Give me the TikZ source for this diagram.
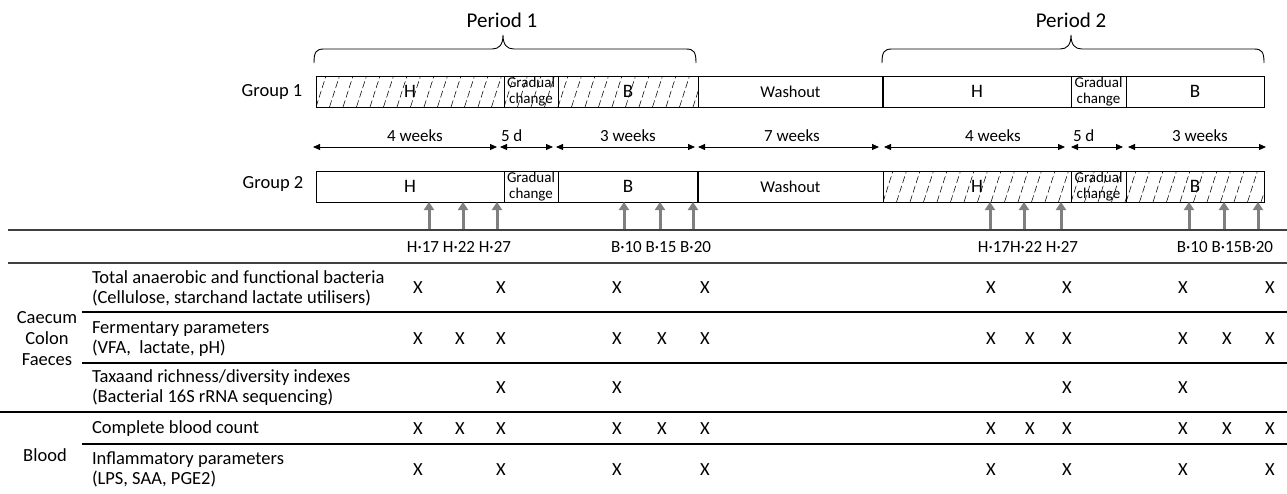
\documentclass[tikz,border=0pt]{standalone}
\usepackage{fontspec}
\setmainfont{Carlito}
\usetikzlibrary{arrows.meta,calc}

% diagonal dashed hatching clipped to a named box
\newcommand\hatchnode[1]{%
  \begin{scope}
    \clip (#1.south west) rectangle (#1.north east);
    \foreach \k in {-1,...,15}
      \draw[hatch] ($(#1.south west)+(\k*13.5,0)$) -- ++(10,-31);
  \end{scope}}

\begin{document}
\begin{tikzpicture}[x=1pt,y=-1pt,
  every node/.style={inner sep=0pt, outer sep=0pt},
  txt/.style={font=\fontsize{17}{19}\selectfont},
  big/.style={font=\fontsize{21}{24}\selectfont},
  cell/.style={draw, line width=0.9pt, minimum height=31pt, anchor=north west,
    font=\fontsize{19}{21}\selectfont},
  gcell/.style={cell, font=\fontsize{15}{16}\selectfont, align=center},
  wcell/.style={cell, font=\fontsize{16.5}{19}\selectfont},
  hatch/.style={line width=0.55pt, dash pattern=on 7pt off 3pt},
  span/.style={{Triangle[length=7pt,width=6pt]}-{Triangle[length=7pt,width=6pt]}, line width=0.9pt},
  probe/.style={-{Triangle[length=8pt,width=10pt]}, line width=3pt, draw=black!50},
  rowrule/.style={line width=1.2pt},
  headrule/.style={line width=2pt, draw=black!75},
  tab/.style={font=\fontsize{18.5}{20}\selectfont},
  rowtxt/.style={tab, align=left, anchor=west},
]
\useasboundingbox (0,0) rectangle (1287,493);

% periods and braces
\node[big] (p1) at (502,20) {Period 1};
\node[big] (p2) at (1071,20) {Period 2};
\draw[line width=0.9pt] (314,63) .. controls (314,52) and (316,49) .. (324,49) -- (492,49)
  .. controls (499,49) and (503,45) .. (503,35) .. controls (503,45) and (507,49) .. (514,49)
  -- (686,49) .. controls (694,49) and (696,52) .. (696,63);
\draw[line width=0.9pt] (882,63) .. controls (882,52) and (884,49) .. (892,49) -- (1060,49)
  .. controls (1067,49) and (1071,45) .. (1071,35) .. controls (1071,45) and (1075,49) .. (1082,49)
  -- (1254,49) .. controls (1262,49) and (1264,52) .. (1264,63);

% group 1
\node[tab] (grp1) at (272,92) {Group 1};
\node[cell, minimum width=188pt] (g1h) at (316,76) {\raisebox{-3pt}{H}};
\node[gcell, minimum width=54pt] (g1g) at (504,76) {Gradual\\change};
\node[cell, minimum width=140pt] (g1b) at (558,76) {\raisebox{-3pt}{B}};
\node[wcell, minimum width=185pt] (g1w) at (698,76) {Washout};
\node[cell, minimum width=188pt] (g1h2) at (883,76) {\raisebox{-3pt}{H}};
\node[gcell, minimum width=55pt] (g1g2) at (1071,76) {Gradual\\change};
\node[cell, minimum width=138pt] (g1b2) at (1126,76) {\raisebox{-3pt}{B}};
\hatchnode{g1h}\hatchnode{g1g}\hatchnode{g1b}
\draw[line width=1.8pt] (g1h2.north west) -- (g1h2.south west);

% durations
\coordinate (d1a) at (313,147); \coordinate (d1b) at (497,147);
\coordinate (d2a) at (500,147); \coordinate (d2b) at (553,147);
\coordinate (d3a) at (556,147); \coordinate (d3b) at (695,147);
\coordinate (d4a) at (698,147); \coordinate (d4b) at (879,147);
\coordinate (d5a) at (884,147); \coordinate (d5b) at (1065,147);
\coordinate (d6a) at (1071,147); \coordinate (d6b) at (1123,147);
\coordinate (d7a) at (1128,147); \coordinate (d7b) at (1266,147);
\foreach \i in {1,...,7} \draw[span] (d\i a) -- (d\i b);
\node[txt] (w1) at (415,136) {4 weeks};
\node[txt, anchor=west] (w2) at (501,136) {5 d};
\node[txt] (w3) at (628,136) {3 weeks};
\node[txt] (w4) at (792,136) {7 weeks};
\node[txt] (w5) at (993,136) {4 weeks};
\node[txt, anchor=west] (w6) at (1073,136) {5 d};
\node[txt] (w7) at (1200,136) {3 weeks};

% group 2
\node[tab] (grp2) at (273,184) {Group 2};
\node[cell, minimum width=188pt] (g2h) at (316,171) {\raisebox{-3pt}{H}};
\node[gcell, minimum width=54pt] (g2g) at (504,171) {Gradual\\change};
\node[cell, minimum width=140pt] (g2b) at (558,171) {\raisebox{-3pt}{B}};
\node[wcell, minimum width=185pt] (g2w) at (698,171) {Washout};
\node[cell, minimum width=188pt] (g2h2) at (883,171) {\raisebox{-3pt}{H}};
\node[gcell, minimum width=55pt] (g2g2) at (1071,171) {Gradual\\change};
\node[cell, minimum width=138pt] (g2b2) at (1126,171) {\raisebox{-3pt}{B}};
\hatchnode{g2h2}\hatchnode{g2g2}\hatchnode{g2b2}
\draw[line width=1.8pt] (g2w.north west) -- (g2w.south west);

% sampling days
\foreach \x [count=\i] in {429,463,497,624,660,693}
  {\coordinate (s\i) at (\x,231); \draw[probe] (s\i) -- (s\i |- g2h.south);}
\foreach \x [count=\i] in {990,1024,1061,1189,1224,1258}
  {\coordinate (q\i) at (\x,231); \draw[probe] (q\i) -- (q\i |- g2h2.south);}
\node[txt] (lh1) at (459,247) {H·17 H·22 H·27};
\node[txt] (lb1) at (661,247) {B·10 B·15 B·20};
\node[txt] (lh2) at (1028,247) {H·17H·22 H·27};
\node[txt] (lb2) at (1225,247) {B·10 B·15B·20};

% table rules
\draw[headrule] (8,230) -- (1287,230);
\draw[headrule] (8,263) -- (1287,263);
\draw[rowrule] (82,312) -- (1287,312);
\draw[rowrule] (82,363) -- (1287,363);
\draw[rowrule] (0,412) -- (1287,412);
\draw[rowrule] (82,444) -- (1287,444);

% table labels
\node[tab, align=center, font=\fontsize{18.5}{21}\selectfont] (site) at (47,339) {Caecum\\Colon\\Faeces};
\node[tab] (blood) at (45,455) {Blood};
\node[rowtxt] (r1) at (92,288) {Total anaerobic and functional bacteria\\(Cellulose, starchand lactate utilisers)};
\node[rowtxt] (r2) at (92,339) {Fermentary parameters\\(VFA,~~lactate, pH)};
\node[rowtxt] (r3) at (92,388) {Taxaand richness/diversity indexes\\(Bacterial 16S rRNA sequencing)};
\node[rowtxt] (r4) at (92,429) {Complete blood count};
\node[rowtxt] (r5) at (92,469) {Inflammatory parameters\\(LPS, SAA, PGE2)};

% sampling marks
\foreach \x [count=\i] in {418,460,501,617,662,705,991,1030,1067,1183,1227,1270}
  {\node[tab] (m2c\i) at (\x,339) {X}; \node[tab] (m4c\i) at (\x,429) {X};}
\foreach \x [count=\i] in {418,501,617,705,991,1067,1183,1270}
  {\node[tab] (m1c\i) at (\x,288) {X}; \node[tab] (m5c\i) at (\x,470) {X};}
\foreach \x [count=\i] in {501,617,1067,1183}
  {\node[tab] (m3c\i) at (\x,388) {X};}
\end{tikzpicture}
\end{document}
